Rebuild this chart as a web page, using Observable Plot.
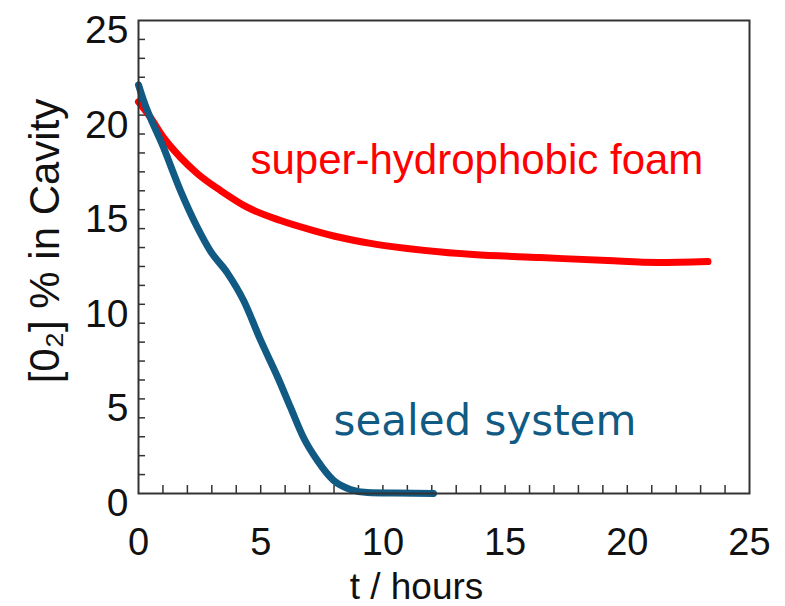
<!DOCTYPE html>
<html>
<head>
<meta charset="utf-8">
<script src="https://cdn.jsdelivr.net/npm/d3@7"></script>
<script src="https://cdn.jsdelivr.net/npm/@observablehq/plot@0.6"></script>
<style>
  html, body { margin: 0; padding: 0; background: #fff; }
  #chart { width: 785px; height: 606px; }
</style>
</head>
<body>
<div id="chart"></div>
<script>
// Super-hydrophobic foam series (t in hours, O2 %)
const foamT = [0, 0.49, 1.02, 1.72, 2.41, 3.36, 4.46, 5.81, 7.16, 8.27, 9.5, 11.0, 13.7, 16.45, 19.19, 21.24, 23.3];
const foamV = [20.7, 19.87, 18.82, 17.76, 16.91, 16.01, 15.12, 14.43, 13.9, 13.53, 13.22, 12.95, 12.63, 12.47, 12.31, 12.21, 12.26];

// Sealed system series
const sealedT = [0, 0.2, 1.02, 1.72, 2.41, 2.95, 3.64, 4.3, 5.0, 5.7, 6.22, 6.75, 7.32, 7.98, 8.67, 9.37, 10.5, 12.07];
const sealedV = [21.6, 20.8, 18.3, 16.0, 14.06, 12.8, 11.65, 10.2, 8.09, 6.13, 4.55, 2.96, 1.74, 0.69, 0.21, 0.05, 0.02, 0.0];

// Tick labels
const xTickLabels = [0, 5, 10, 15, 20, 25];
const yTickLabels = [0, 5, 10, 15, 20, 25];
const minorTicks = d3.range(1, 25);

// Series labels (anchored in data space)
const labelText = ["super-hydrophobic foam", "sealed system"];
const labelT = [4.58, 7.98];
const labelV = [16.91, 3.07];

const xTitle = "t / hours";
const yTitle = "[0\u2082] % in Cavity";

const redColor = "#ff0000";
const blueColor = "#115a83";

const foam = foamT.map((t, i) => ({t, v: foamV[i]}));
const sealed = sealedT.map((t, i) => ({t, v: sealedV[i]}));
const labels = labelText.map((text, i) => ({text, t: labelT[i], v: labelV[i]}));

const chart = Plot.plot({
  width: 785,
  height: 606,
  marginLeft: 138,
  marginRight: 36,
  marginTop: 20,
  marginBottom: 113,
  style: {fontFamily: "'Liberation Sans', Arial, sans-serif", fontSize: "38px", color: "#111", background: "#fff"},
  x: {domain: [0, 25]},
  y: {domain: [0, 25]},
  marks: [
    // minor tick marks, pointing inward
    Plot.axisX({ticks: minorTicks, tickSize: -8, tickFormat: () => "", label: null, stroke: "#333", strokeWidth: 1.5}),
    Plot.axisY({ticks: minorTicks, tickSize: -7, tickFormat: () => "", label: null, stroke: "#333", strokeWidth: 1.5}),
    // tick labels
    Plot.axisX({ticks: xTickLabels, tickSize: 0, tickPadding: 35, fontSize: 38, label: null, fill: "#111"}),
    Plot.axisY({ticks: yTickLabels, tickSize: 0, tickPadding: 10, dy: 10, fontSize: 39, label: null, fill: "#111"}),
    Plot.line(foam, {x: "t", y: "v", stroke: redColor, strokeWidth: 7, curve: "monotone-x", strokeLinecap: "round"}),
    Plot.line(sealed, {x: "t", y: "v", stroke: blueColor, strokeWidth: 7, curve: "monotone-x"}),
    Plot.frame({stroke: "#333", strokeWidth: 2}),
    Plot.text([labels[0]], {x: "t", y: "v", text: "text", textAnchor: "start", lineAnchor: "bottom", fill: redColor, fontSize: 42, fontFamily: "'Liberation Sans', Arial, sans-serif"}),
    Plot.text([labels[1]], {x: "t", y: "v", text: "text", textAnchor: "start", lineAnchor: "bottom", fill: blueColor, fontSize: 42, fontFamily: "'DejaVu Sans', Verdana, sans-serif"}),
    Plot.text([xTitle], {frameAnchor: "bottom-left", dx: 278, dy: 105, textAnchor: "middle", lineAnchor: "bottom", fontSize: 37, fill: "#111"}),
    Plot.text([yTitle], {frameAnchor: "left", rotate: -90, dx: -80, dy: -16, textAnchor: "middle", lineAnchor: "bottom", fontSize: 42, fill: "#111"})
  ]
});
document.getElementById("chart").appendChild(chart);
</script>
</body>
</html>
